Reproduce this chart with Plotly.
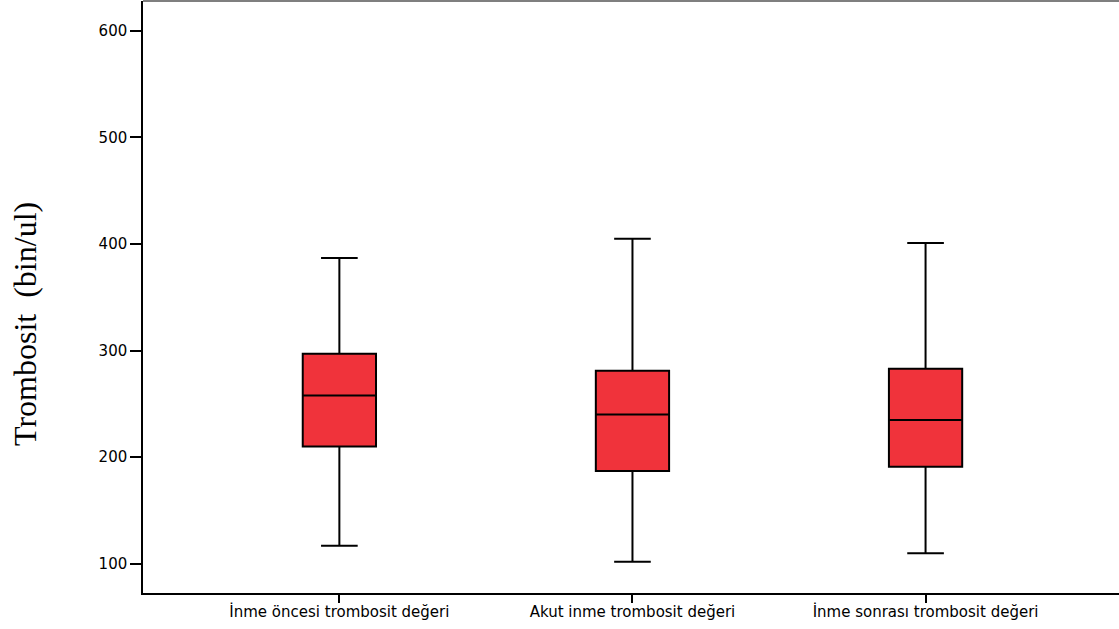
import plotly.graph_objects as go

categories = ["İnme öncesi trombosit değeri", "Akut inme trombosit değeri", "İnme sonrası trombosit değeri"]
lower_whisker = [117, 102, 110]
q1 = [210, 187, 191]
median = [258, 240, 235]
q3 = [297, 281, 283]
upper_whisker = [387, 405, 401]
y_ticks = [100, 200, 300, 400, 500, 600]

fig = go.Figure()
fig.add_trace(go.Box(
    x=categories,
    q1=q1, median=median, q3=q3,
    lowerfence=lower_whisker, upperfence=upper_whisker,
    fillcolor="#F0333B",
    line=dict(color="black", width=2),
    width=0.25,
    whiskerwidth=0.5,
    boxpoints=False,
    showlegend=False,
    hoverinfo="skip",
))

fig.update_layout(
    width=1119, height=629,
    margin=dict(l=143, r=0, t=1, b=36),
    paper_bgcolor="white", plot_bgcolor="white",
    font=dict(family="DejaVu Sans, Arial", size=15, color="black"),
    xaxis=dict(
        type="category", categoryorder="array", categoryarray=categories,
        range=[-0.67, 2.66],
        showline=True, linecolor="black", linewidth=1.5,
        ticks="outside", ticklen=8, tickwidth=1.5, tickcolor="black",
        ticklabelstandoff=-4,
        showgrid=False, zeroline=False, fixedrange=True,
    ),
    yaxis=dict(
        range=[72.6, 628],
        tickvals=y_ticks,
        showline=True, linecolor="black", linewidth=1.5,
        ticks="outside", ticklen=11, tickwidth=1.5, tickcolor="black",
        ticklabelstandoff=0,
        showgrid=False, zeroline=False,
    ),
    shapes=[dict(type="line", xref="paper", yref="paper", x0=0, x1=1, y0=1, y1=1,
                 line=dict(color="#555555", width=1.5))],
    annotations=[dict(
        text="Trombosit  (bin/ul)", textangle=-90,
        xref="paper", yref="paper", x=-(143 - 25) / 976, y=1 - 323 / 592,
        xanchor="center", yanchor="middle", showarrow=False,
        font=dict(family="Liberation Serif, Times New Roman", size=32, color="black"),
    )],
)

fig.write_html("out.html", config={"displayModeBar": False},
               post_script="document.body.style.margin='0';")
